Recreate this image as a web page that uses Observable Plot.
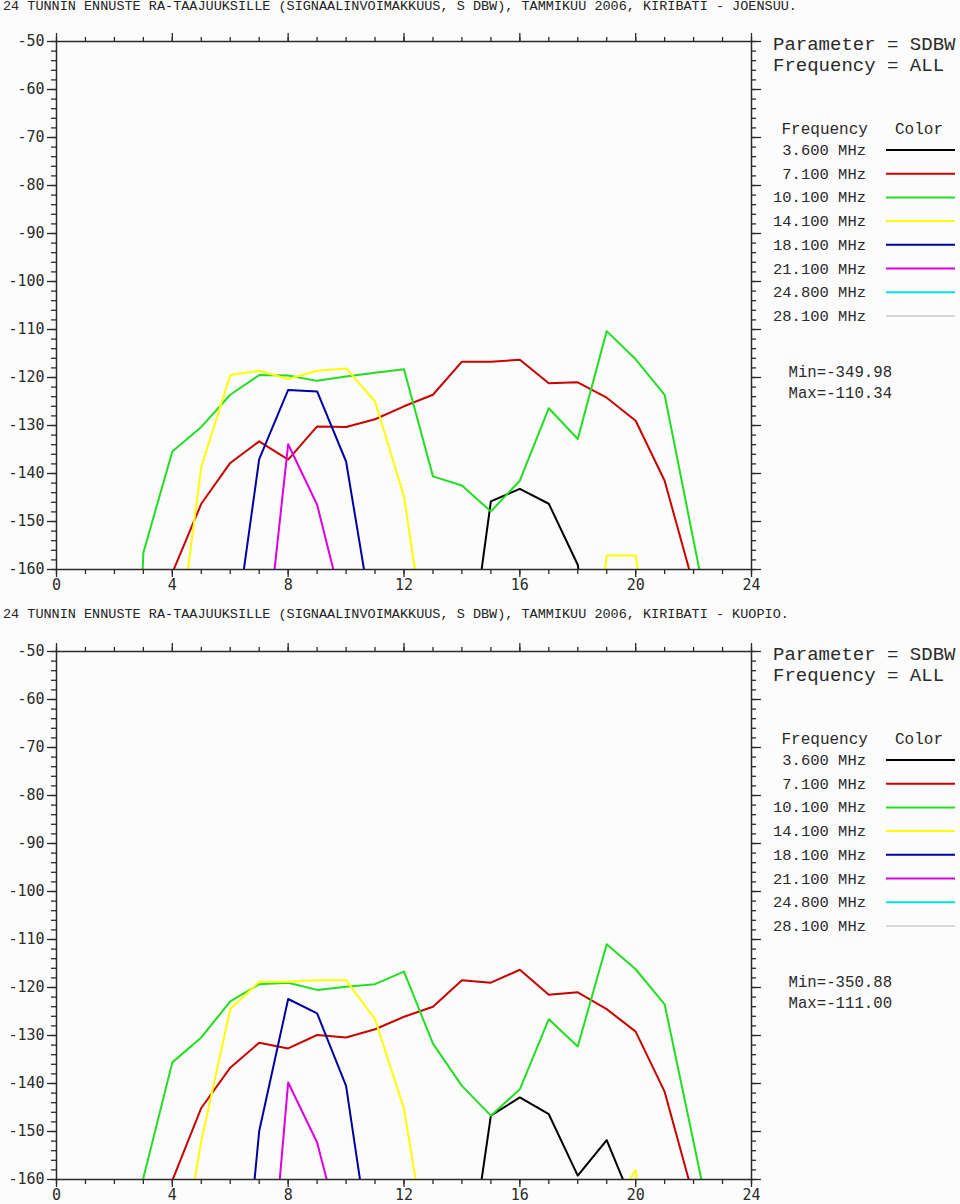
<!DOCTYPE html>
<html><head><meta charset="utf-8">
<script src="https://cdn.jsdelivr.net/npm/d3@7"></script>
<script src="https://cdn.jsdelivr.net/npm/@observablehq/plot@0.6"></script>
<style>
body{margin:0;background:#fcfcfc}
#root{position:relative;width:960px;height:1204px;overflow:hidden;background:#fcfcfc}
.title{position:absolute;left:3px;font-family:"Liberation Mono","Courier New",monospace;font-size:13.5px;line-height:14px;color:#222;white-space:pre}
.panel{position:absolute;left:0}
.legend{position:absolute;left:0;top:0}
</style></head><body><div id="root"></div>
<script>
// ---- data ----
const hours = d3.range(0, 25);
const freqLabels = ["3.600 MHz","7.100 MHz","10.100 MHz","14.100 MHz","18.100 MHz","21.100 MHz","24.800 MHz","28.100 MHz"];
const freqColors = ["#000000","#c80000","#22dd22","#ffff00","#0000a0","#dd00dd","#00e0e0","#d8d8d8"];
const xMajorTicks = [0,4,8,12,16,20,24];
const yMajorTicks = [-160,-150,-140,-130,-120,-110,-100,-90,-80,-70,-60,-50];

const titleJoensuu = "24 TUNNIN ENNUSTE RA-TAAJUUKSILLE (SIGNAALINVOIMAKKUUS, S DBW), TAMMIKUU 2006, KIRIBATI - JOENSUU.";
const titleKuopio = "24 TUNNIN ENNUSTE RA-TAAJUUKSILLE (SIGNAALINVOIMAKKUUS, S DBW), TAMMIKUU 2006, KIRIBATI - KUOPIO.";
const minMaxJoensuu = ["Min=-349.98","Max=-110.34"];
const minMaxKuopio = ["Min=-350.88","Max=-111.00"];

// Joensuu, values by hour 0..24 (null = not read / far below chart)
const j36  = [null,null,null,null,null,null,null,null,null,null,null,null,null,null,-190.2,-145.8,-143.2,-146.3,-159.0,-200,null,null,null,null,null];
const j71  = [null,null,null,-200,-160.7,-146.3,-137.8,-133.3,-137.1,-130.2,-130.3,-128.7,-126.0,-123.6,-116.7,-116.7,-116.3,-121.2,-121.0,-124.2,-129.0,-141.5,-163.3,null,null];
const j101 = [null,null,-300,-156.5,-135.4,-130.3,-123.6,-119.5,-119.6,-120.7,-119.8,-119.0,-118.3,-140.6,-142.5,-147.9,-141.5,-126.4,-132.8,-110.34,-116.2,-123.6,-154.0,-184,null];
const j141 = [null,null,null,null,-185.1,-138.6,-119.5,-118.6,-120.3,-118.6,-118.1,-125.0,-144.8,-184.8,null,null,null,null,-205.5,-157.1,-157.1,-198.5,null,null,null];
const j181 = [null,null,null,null,null,null,-180.4,-137.0,-122.6,-122.9,-137.5,-173.8,null,null,null,null,null,null,null,null,null,null,null,null,null];
const j211 = [null,null,null,null,null,null,null,-189.4,-133.9,-146.5,-170.6,null,null,null,null,null,null,null,null,null,null,null,null,null,null];
const j248 = [null,null,null,null,null,null,null,null,null,null,null,null,null,null,null,null,null,null,null,null,null,null,null,null,null];
const j281 = [null,null,null,null,null,null,null,null,null,null,null,null,null,null,null,null,null,null,null,null,null,null,null,null,null];

// Kuopio
const k36  = [null,null,null,null,null,null,null,null,null,null,null,null,null,null,-188.3,-146.7,-142.9,-146.4,-159.2,-151.8,-166.4,null,null,null,null];
const k71  = [null,null,null,-200,-160.2,-145.1,-136.7,-131.5,-132.7,-129.9,-130.4,-128.7,-126.1,-124.0,-118.5,-119.0,-116.3,-121.5,-121.0,-124.5,-129.2,-141.7,-163.7,null,null];
const k101 = [null,null,-300,-159.7,-135.6,-130.4,-122.9,-119.3,-119.0,-120.5,-119.85,-119.3,-116.7,-131.7,-140.5,-146.7,-141.2,-126.6,-132.3,-111.0,-116.2,-123.5,-152.2,-181.1,null];
const k141 = [null,null,null,null,-186.8,-152.0,-124.5,-118.8,-118.8,-118.5,-118.5,-126.6,-145.3,-182,null,null,null,null,null,-168,-158.0,-225,null,null,null];
const k181 = [null,null,null,null,null,null,-213,-149.9,-122.4,-125.4,-140.5,-181.1,null,null,null,null,null,null,null,null,null,null,null,null,null];
const k211 = [null,null,null,null,null,null,null,-209.4,-139.8,-152.3,-175.6,null,null,null,null,null,null,null,null,null,null,null,null,null,null];
const k248 = [null,null,null,null,null,null,null,null,null,null,null,null,null,null,null,null,null,null,null,null,null,null,null,null,null];
const k281 = [null,null,null,null,null,null,null,null,null,null,null,null,null,null,null,null,null,null,null,null,null,null,null,null,null];

// ---- build ----
const root = document.getElementById("root");
function rowsOf(seriesList) {
  const rows = [];
  seriesList.forEach((vals, i) => hours.forEach(h => rows.push({hour: h, value: vals[h], freq: freqLabels[i]})));
  return rows;
}
function makePanel(seriesList, title, titleTop, svgTop) {
  const t = document.createElement("div");
  t.className = "title"; t.style.top = titleTop + "px"; t.textContent = title;
  root.appendChild(t);
  const blank = () => "";
  const plot = Plot.plot({
    width: 960, height: 574,
    marginLeft: 56, marginRight: 209, marginTop: 21, marginBottom: 25,
    x: {domain: [0, 24]},
    y: {domain: [-160, -50]},
    color: {domain: freqLabels, range: freqColors},
    style: {background: "transparent", color: "#2a2a2a", fontFamily: "'DejaVu Sans Mono', monospace", fontSize: "15px"},
    marks: [
      Plot.axisX({anchor: "top", ticks: hours, tickSize: 5, tickFormat: blank, label: null, strokeWidth: 1.3}),
      Plot.axisX({anchor: "top", ticks: xMajorTicks, tickSize: 9, tickFormat: blank, label: null, strokeWidth: 1.3}),
      Plot.axisX({anchor: "bottom", ticks: hours, tickSize: 5, tickFormat: blank, label: null, strokeWidth: 1.3}),
      Plot.axisX({anchor: "bottom", ticks: xMajorTicks, tickSize: 8, tickPadding: 2, tickFormat: d => String(d), label: null, strokeWidth: 1.3}),
      Plot.axisY({anchor: "left", ticks: d3.range(-160, -49, 2), tickSize: 5, tickFormat: blank, label: null, strokeWidth: 1.3}),
      Plot.axisY({anchor: "left", ticks: yMajorTicks, tickSize: 9, tickPadding: 3, tickFormat: d => String(d), label: null, strokeWidth: 1.3}),
      Plot.axisY({anchor: "right", ticks: d3.range(-160, -49, 2), tickSize: 4, tickFormat: blank, label: null, strokeWidth: 1.3}),
      Plot.axisY({anchor: "right", ticks: yMajorTicks, tickSize: 9, tickFormat: blank, label: null, strokeWidth: 1.3}),
      Plot.line(rowsOf(seriesList), {x: "hour", y: "value", z: "freq", stroke: "freq", strokeWidth: 2, clip: true}),
      Plot.frame({stroke: "#2a2a2a", strokeWidth: 1.5})
    ]
  });
  plot.classList.add("panel");
  plot.style.top = svgTop + "px";
  root.appendChild(plot);
}
makePanel([j36,j71,j101,j141,j181,j211,j248,j281], titleJoensuu, 0, 20);
makePanel([k36,k71,k101,k141,k181,k211,k248,k281], titleKuopio, 608, 630);

// legend overlay
const svg = d3.select(root).append("svg").attr("class", "legend")
  .attr("width", 960).attr("height", 1204)
  .style("font-family", "'Liberation Mono','Courier New',monospace").style("fill", "#2a2a2a");
function legend(dy, minMax) {
  const g = svg.append("g").attr("transform", `translate(0,${dy})`).attr("dominant-baseline", "central");
  g.append("text").attr("x", 773).attr("y", 45).attr("font-size", 19).text("Parameter = SDBW");
  g.append("text").attr("x", 773).attr("y", 66).attr("font-size", 19).text("Frequency = ALL");
  g.append("text").attr("x", 781.5).attr("y", 130).attr("font-size", 16).text("Frequency");
  g.append("text").attr("x", 895).attr("y", 130).attr("font-size", 16).text("Color");
  freqLabels.forEach((f, i) => {
    const y = 151 + i * 23.7;
    g.append("text").attr("x", 866).attr("y", y).attr("text-anchor", "end").attr("font-size", 15.5).text(f);
    g.append("line").attr("x1", 886).attr("x2", 955).attr("y1", y - 1).attr("y2", y - 1)
      .attr("stroke", freqColors[i]).attr("stroke-width", 2);
  });
  g.append("text").attr("x", 788.5).attr("y", 373).attr("font-size", 15.7).text(minMax[0]);
  g.append("text").attr("x", 788.5).attr("y", 394).attr("font-size", 15.7).text(minMax[1]);
}
legend(0, minMaxJoensuu);
legend(610, minMaxKuopio);
</script></body></html>
